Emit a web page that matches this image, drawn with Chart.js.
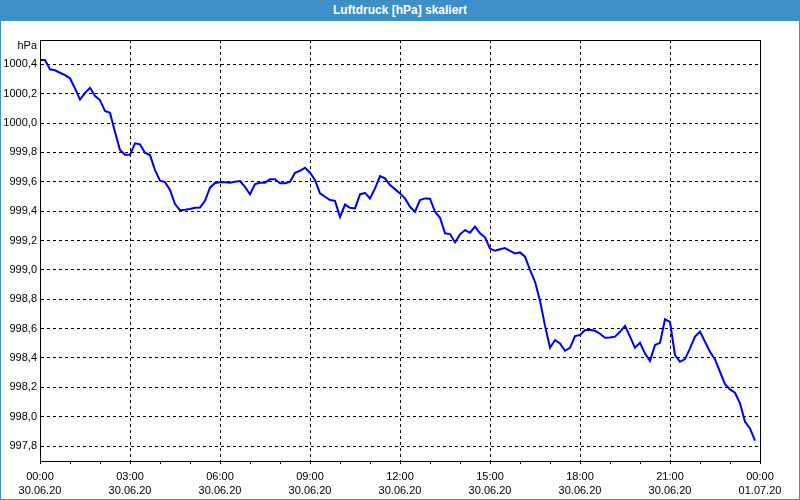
<!DOCTYPE html>
<html>
<head>
<meta charset="utf-8">
<script src="https://cdn.jsdelivr.net/npm/chart.js@4/dist/chart.umd.min.js"></script>
<style>
  html, body { margin: 0; padding: 0; background: #fcfefc; overflow: hidden; }
  #c { position: absolute; left: 0; top: 0; }
  #titlebar { position: absolute; left: 0; top: 0; width: 800px; height: 21px; background: #3c8fc7; color: #fff;
    font: bold 12px "Liberation Sans", Arial, sans-serif; text-align: center; line-height: 21px; }
  #edge { position: absolute; left: 0; top: 0; width: 800px; height: 500px; box-sizing: border-box; border: 1px solid #3c8fc7; pointer-events: none; }
</style>
</head>
<body>
<canvas id="c" width="800" height="500"></canvas>
<div id="titlebar">Luftdruck [hPa] skaliert</div>
<div id="edge"></div>
<script>
const times = [
"00:00","00:10","00:20","00:30","00:40","00:50","01:00","01:10","01:20","01:30","01:40","01:50",
"02:00","02:10","02:20","02:30","02:40","02:50","03:00","03:10","03:20","03:30","03:40","03:50",
"04:00","04:10","04:20","04:30","04:40","04:50","05:00","05:10","05:20","05:30","05:40","05:50",
"06:00","06:10","06:20","06:30","06:40","06:50","07:00","07:10","07:20","07:30","07:40","07:50",
"08:00","08:10","08:20","08:30","08:40","08:50","09:00","09:10","09:20","09:30","09:40","09:50",
"10:00","10:10","10:20","10:30","10:40","10:50","11:00","11:10","11:20","11:30","11:40","11:50",
"12:00","12:10","12:20","12:30","12:40","12:50","13:00","13:10","13:20","13:30","13:40","13:50",
"14:00","14:10","14:20","14:30","14:40","14:50","15:00","15:10","15:20","15:30","15:40","15:50",
"16:00","16:10","16:20","16:30","16:40","16:50","17:00","17:10","17:20","17:30","17:40","17:50",
"18:00","18:10","18:20","18:30","18:40","18:50","19:00","19:10","19:20","19:30","19:40","19:50",
"20:00","20:10","20:20","20:30","20:40","20:50","21:00","21:10","21:20","21:30","21:40","21:50",
"22:00","22:10","22:20","22:30","22:40","22:50","23:00","23:10","23:20","23:30","23:40","23:50"
];
const pressure = [
1000.43,1000.43,1000.366,1000.36,1000.343,1000.327,1000.305,1000.236,1000.16,1000.206,
1000.24,1000.184,1000.157,1000.082,1000.07,999.94,999.816,999.784,999.784,999.862,
999.855,999.798,999.782,999.68,999.607,999.598,999.544,999.448,999.407,999.41,
999.415,999.423,999.425,999.47,999.56,999.592,999.597,999.597,999.594,999.6,
999.605,999.565,999.515,999.585,999.594,999.594,999.617,999.617,999.59,999.59,
999.6,999.662,999.675,999.696,999.662,999.612,999.521,999.498,999.476,999.47,
999.36,999.445,999.423,999.419,999.514,999.525,999.487,999.555,999.639,999.623,
999.578,999.55,999.521,999.487,999.43,999.396,999.476,999.487,999.485,999.396,
999.355,999.249,999.244,999.187,999.242,999.271,999.253,999.294,999.249,999.222,
999.145,999.13,999.14,999.148,999.13,999.112,999.119,999.09,999.0,998.919,
998.79,998.62,998.47,998.522,998.499,998.449,998.469,998.549,998.556,998.59,
998.592,998.585,998.565,998.538,998.54,998.545,998.578,998.619,998.545,998.469,
998.503,998.43,998.38,998.488,998.503,998.663,998.645,998.42,998.374,998.392,
998.465,998.545,998.579,998.51,998.442,998.39,998.306,998.222,998.186,998.163,
998.091,997.965,997.92,997.836
];
const xTickTimes = ["00:00","03:00","06:00","09:00","12:00","15:00","18:00","21:00","00:00"];
const xTickDates = ["30.06.20","30.06.20","30.06.20","30.06.20","30.06.20","30.06.20","30.06.20","30.06.20","01.07.20"];
const yTicks = [997.8,998.0,998.2,998.4,998.6,998.8,999.0,999.2,999.4,999.6,999.8,1000.0,1000.2,1000.4];
const yUnit = "hPa";

const toMin = s => { const p = s.split(":"); return parseInt(p[0],10)*60 + parseInt(p[1],10); };
const points = times.map((t,i) => ({x: toMin(t), y: pressure[i]}));

const FONT = {family: '"Liberation Sans", Arial, sans-serif', size: 11, lineHeight: 1.3};

const frameBox = {
  id: 'frameBox',
  beforeDraw(chart) {
    const {ctx, width, height} = chart;
    ctx.save();
    ctx.fillStyle = '#fcfefc';
    ctx.fillRect(0, 0, width, height);
    ctx.restore();
  },
  afterDraw(chart) {
    const {ctx, chartArea: a} = chart;
    ctx.save();
    ctx.strokeStyle = '#000';
    ctx.lineWidth = 1;
    ctx.strokeRect(Math.round(a.left)+0.5, Math.round(a.top)+0.5, Math.round(a.right-a.left), Math.round(a.bottom-a.top));
    ctx.fillStyle = '#000';
    ctx.font = '11px "Liberation Sans", Arial, sans-serif';
    ctx.textAlign = 'right';
    ctx.textBaseline = 'middle';
    ctx.fillText(yUnit, a.left - 3, a.top + 6);
    ctx.restore();
  }
};

new Chart(document.getElementById('c'), {
  type: 'line',
  data: {
    datasets: [{
      data: points,
      borderColor: '#0000e6',
      borderWidth: 2,
      pointRadius: 0,
      tension: 0,
      fill: false
    }]
  },
  options: {
    responsive: false,
    animation: false,
    layout: {padding: {top: 40, right: 40, bottom: 0, left: 0}},
    plugins: {legend: {display: false}, tooltip: {enabled: false}, title: {display: false}},
    scales: {
      x: {
        type: 'linear',
        min: 0, max: 1440,
        afterBuildTicks: s => { const t = []; for (let m = 0; m <= 1440; m += 60) t.push({value: m}); s.ticks = t; },
        afterFit: s => { s.height = 39; },
        ticks: {
          autoSkip: false, maxRotation: 0, padding: 6, color: '#000', font: FONT,
          callback: v => (v % 180 === 0) ? [xTickTimes[v/180], xTickDates[v/180]] : ''
        },
        grid: {
          color: c => (c.tick && c.tick.value % 180 === 0) ? '#000' : 'rgba(0,0,0,0)',
          tickColor: '#000', tickLength: 3, lineWidth: 1
        },
        border: {display: true, color: '#000', width: 1, dash: [3,3]}
      },
      y: {
        min: 997.698, max: 1000.566,
        afterBuildTicks: s => { s.ticks = yTicks.map(v => ({value: v})); },
        afterFit: s => { s.width = 40; },
        ticks: {
          padding: 3, color: '#000', font: FONT,
          callback: v => v.toFixed(1).replace('.', ',')
        },
        grid: {color: '#000', drawTicks: false, lineWidth: 1},
        border: {display: true, color: '#000', width: 1, dash: [3,3]}
      }
    }
  },
  plugins: [frameBox]
});
</script>
</body>
</html>
